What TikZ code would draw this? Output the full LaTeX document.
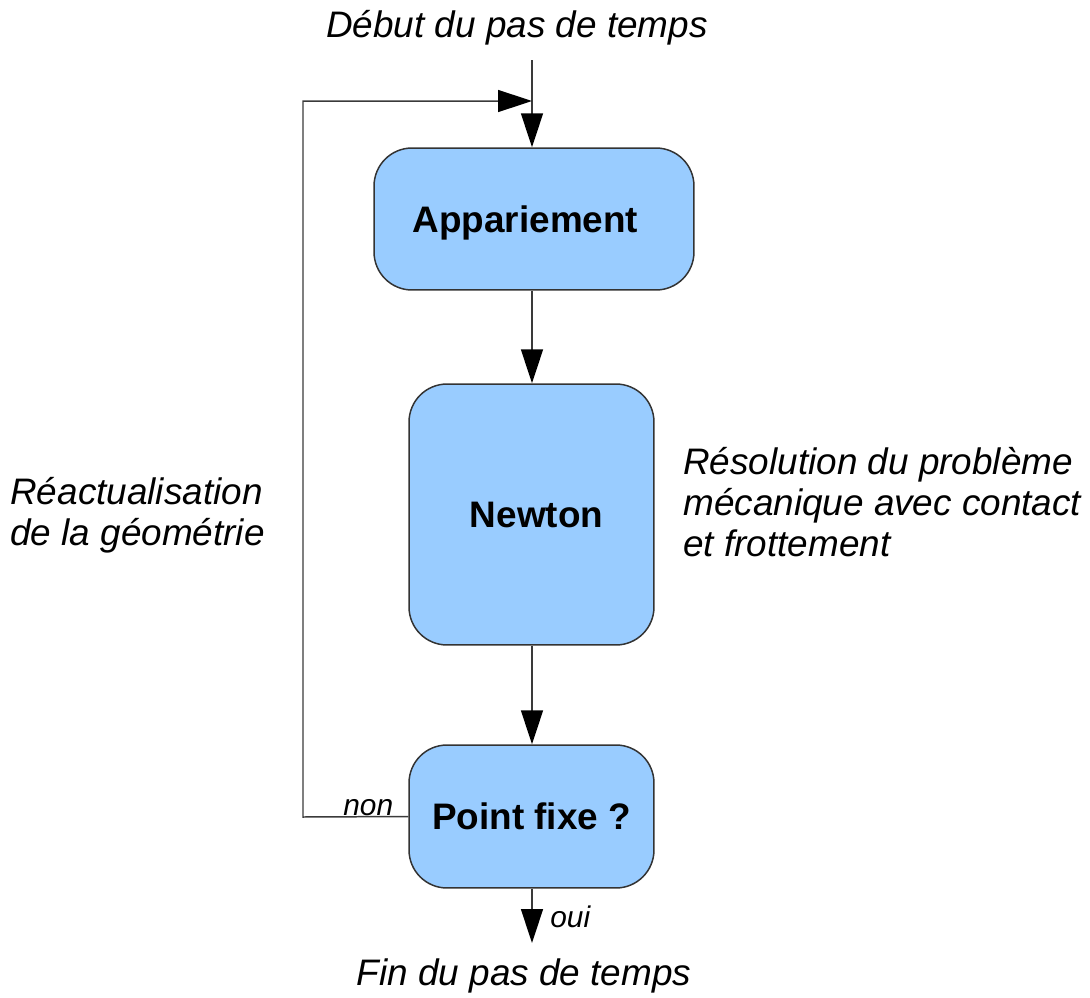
\documentclass[tikz,border=0pt]{standalone}
\usepackage{fontspec}
\setmainfont{Liberation Sans}
\usetikzlibrary{arrows.meta}
\definecolor{boxfill}{HTML}{99CCFF}
\definecolor{boxline}{HTML}{333333}
\definecolor{wire}{HTML}{3A3A3A}
\tikzset{
  procbox/.style={draw=boxline, fill=boxfill, line width=0.85pt, rounded corners=0.76cm,
    inner sep=0pt, font=\fontsize{21pt}{23pt}\selectfont\bfseries,
    text height=15.2pt, text depth=0pt},
  flow/.style={draw=wire, line width=0.85pt, -{Triangle[length=0.68cm,width=0.44cm,color=black]}},
  bigit/.style={font=\fontsize{21pt}{23.2pt}\selectfont\itshape, inner sep=0pt},
  smallit/.style={font=\fontsize{17pt}{19pt}\selectfont\itshape, inner sep=0pt},
}
\begin{document}
\begin{tikzpicture}[x=0.02cm, y=-0.02cm]
\useasboundingbox (0,0) rectangle (1090,998);
% boxes
\node[procbox, minimum width=6.4cm, minimum height=2.84cm] (app) at (534,219) {Appariement\kern0.34cm\relax};
\node[procbox, minimum width=4.9cm, minimum height=5.22cm] (newt) at (531.5,514.5) {\kern0.2cm\relax Newton};
\node[procbox, minimum width=4.9cm, minimum height=2.86cm] (pf) at (531.5,816.5) {Point fixe ?};
% texts
\node[bigit, anchor=base] (debut) at (517,37) {Début du pas de temps};
\node[bigit, anchor=base] (fin) at (524,985) {Fin du pas de temps};
\node[bigit, anchor=base west, align=left] (reac) at (10,545) {Réactualisation\\de la géométrie};
\node[bigit, anchor=base west, align=left] (reso) at (683,556) {Résolution du problème\\mécanique avec contact\\et frottement};
\node[smallit, anchor=base west] (non) at (343,815) {non};
\node[smallit, anchor=base west] (oui) at (550,927) {oui};
% coordinates
\coordinate (start) at (532,60);
\coordinate (join) at (532,101);
\coordinate (corner1) at (303,817);
\coordinate (corner2) at (303,101);
\coordinate (endpt) at (532,943);
\coordinate (m1) at (532,290);
\coordinate (m2) at (532,384);
\coordinate (m3) at (532,645);
% connectors
\draw[flow] (start) -- (start |- app.north);
\draw[flow] (pf.west) -- (corner1) -- (corner2) -- (join);
\draw[flow] (m1 |- app.south) -- (m2 |- newt.north);
\draw[flow] (m3 |- newt.south) -- (m3 |- pf.north);
\draw[flow] (m3 |- pf.south) -- (endpt);
\end{tikzpicture}
\end{document}
